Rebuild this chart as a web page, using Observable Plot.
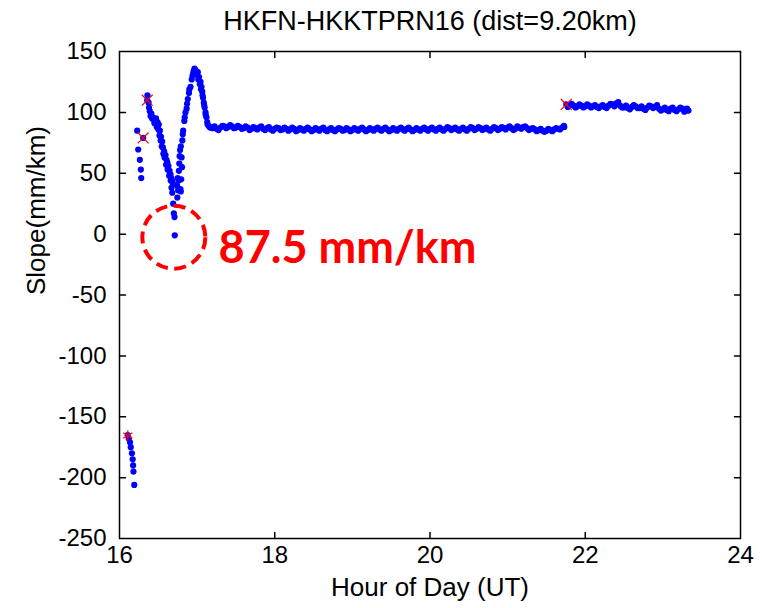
<!DOCTYPE html>
<html><head><meta charset="utf-8">
<script src="https://cdn.jsdelivr.net/npm/d3@7"></script>
<script src="https://cdn.jsdelivr.net/npm/@observablehq/plot@0.6"></script>
<style>body{margin:0;background:#fff}</style>
</head><body><div id="chart"></div>
<script>
const title = "HKFN-HKKTPRN16 (dist=9.20km)";
const xLabel = "Hour of Day (UT)";
const yLabel = "Slope(mm/km)";
const xTicks = [16, 18, 20, 22, 24];
const yTicks = [-250, -200, -150, -100, -50, 0, 50, 100, 150];

// segment 1: first negative arc
const seg1Hour  = [16.105, 16.12, 16.135, 16.145, 16.16, 16.17, 16.175, 16.18, 16.19];
const seg1Slope = [-165, -168, -171, -175, -180, -185, -190, -195, -206];

// segment 2: disturbed period
const seg2Hour  = [16.228, 16.241, 16.262, 16.275, 16.28, 16.305, 16.357, 16.36, 16.375, 16.39, 16.40, 16.42, 16.44, 16.464, 16.49, 16.506, 16.52, 16.535, 16.55, 16.56, 16.575, 16.593, 16.605, 16.615, 16.63, 16.645, 16.657, 16.668, 16.675, 16.68, 16.692, 16.70, 16.709, 16.712, 16.74, 16.75, 16.76, 16.77, 16.78, 16.785, 16.79, 16.80, 16.81, 16.82, 16.835, 16.85, 16.865, 16.88, 16.895, 16.915, 16.93, 16.95, 16.966, 16.985, 17.009, 17.025, 17.044, 17.056, 17.066, 17.076, 17.086, 17.097, 17.108, 17.12, 17.13, 17.15, 17.173];
const seg2Slope = [85, 69.5, 61, 53, 46, 79, 110, 114, 108, 101, 97, 95, 94, 93, 92, 90, 85, 80, 76, 71, 68, 65, 61, 59, 56, 52, 49, 46, 44, 34, 25, 17, 14, -1, 40, 46, 44, 58, 69, 37, 35, 63, 77, 85, 93, 100, 103, 111, 116, 121, 127, 132, 136, 134, 133, 129, 125, 121, 117, 112, 108, 104, 100, 96, 92, 89, 87.4];
// scattered companions of segment 2 as [hour, slope]
const seg2Scatter = [[16.38, 104], [16.41, 99], [16.43, 96], [16.45, 91], [16.47, 95], [16.48, 88], [16.50, 86], [16.515, 81], [16.53, 77], [16.545, 72], [16.565, 66], [16.58, 63], [16.60, 57], [16.62, 53], [16.64, 48], [16.66, 44], [16.67, 38], [16.685, 42], [16.745, 30], [16.755, 36], [16.765, 52], [16.775, 64], [16.79, 72], [16.795, 45], [16.805, 55], [16.815, 82], [16.84, 96], [16.87, 107], [16.90, 119], [16.94, 130], [16.955, 134], [16.975, 135], [16.995, 131], [17.015, 127], [17.035, 123], [17.05, 119], [17.07, 114], [17.09, 106], [17.11, 98], [17.135, 90], [17.16, 88]];

// segment 3: stable ~87 mm/km
const seg3Hour  = [17.20, 17.25, 17.30, 17.35, 17.40, 17.45, 17.50, 17.55, 17.60, 17.65, 17.70, 17.75, 17.80, 17.85, 17.90, 17.95, 18.00, 18.05, 18.10, 18.15, 18.20, 18.25, 18.30, 18.35, 18.40, 18.45, 18.50, 18.55, 18.60, 18.65, 18.70, 18.75, 18.80, 18.85, 18.90, 18.95, 19.00, 19.05, 19.10, 19.15, 19.20, 19.25, 19.30, 19.35, 19.40, 19.45, 19.50, 19.55, 19.60, 19.65, 19.70, 19.75, 19.80, 19.85, 19.90, 19.95, 20.00, 20.05, 20.10, 20.15, 20.20, 20.25, 20.30, 20.35, 20.40, 20.45, 20.50, 20.55, 20.60, 20.65, 20.70, 20.75, 20.80, 20.85, 20.90, 20.95, 21.00, 21.05, 21.10, 21.15, 21.20, 21.25, 21.30, 21.35, 21.40, 21.45, 21.50, 21.55, 21.60, 21.65, 21.70, 21.73];
const seg3Slope = [87.0, 86.5, 87.5, 88.5, 88.0, 88.5, 87.5, 88.0, 87.0, 87.5, 86.5, 87.0, 87.5, 86.5, 87.0, 86.0, 86.5, 87.0, 86.0, 86.5, 86.0, 86.5, 85.5, 86.0, 86.5, 86.0, 85.5, 86.0, 86.5, 85.5, 86.0, 85.5, 86.0, 86.5, 85.5, 86.0, 85.5, 86.0, 86.5, 86.0, 85.5, 86.0, 86.5, 86.0, 86.5, 86.0, 85.5, 86.0, 86.5, 86.0, 86.5, 86.0, 85.5, 86.0, 86.5, 86.0, 86.5, 86.0, 86.5, 86.0, 86.5, 87.0, 86.5, 86.0, 86.5, 86.0, 86.5, 87.0, 86.5, 87.0, 86.5, 86.0, 86.5, 87.0, 86.5, 87.0, 87.5, 87.0, 86.5, 87.5, 88.0, 87.0, 86.5, 86.0, 85.5, 85.0, 85.0, 85.5, 86.0, 86.5, 87.5, 88.0];
const seg3Scatter = [[17.225, 88.5], [17.275, 85.5], [17.325, 89], [17.375, 87], [17.425, 89.5], [17.475, 87], [17.525, 89], [17.575, 86.5], [17.625, 88.5], [17.675, 85.5], [17.725, 88], [17.775, 86], [17.825, 88.5], [17.875, 85.5], [17.925, 88], [17.975, 85], [18.025, 87.5], [18.075, 85.5], [18.125, 87.5], [18.175, 85], [18.225, 87.5], [18.275, 84.5], [18.325, 87], [18.375, 85], [18.425, 87.5], [18.475, 84.5], [18.525, 87], [18.575, 85], [18.625, 87.5], [18.675, 84.5], [18.725, 87], [18.775, 84.5], [18.825, 87], [18.875, 85], [18.925, 87], [18.975, 84.5], [19.025, 87], [19.075, 85], [19.125, 87.5], [19.175, 84.5], [19.225, 87], [19.275, 85], [19.325, 87.5], [19.375, 85], [19.425, 87.5], [19.475, 84.5], [19.525, 87], [19.575, 85], [19.625, 87.5], [19.675, 85], [19.725, 87.5], [19.775, 84.5], [19.825, 87], [19.875, 85], [19.925, 87.5], [19.975, 85], [20.025, 87.5], [20.075, 85], [20.125, 87.5], [20.175, 85], [20.225, 88], [20.275, 85.5], [20.325, 87.5], [20.375, 85], [20.425, 87.5], [20.475, 85], [20.525, 88], [20.575, 85.5], [20.625, 88], [20.675, 85.5], [20.725, 87.5], [20.775, 85], [20.825, 88], [20.875, 85.5], [20.925, 88], [20.975, 86], [21.025, 88.5], [21.075, 85.5], [21.125, 88.5], [21.175, 86.5], [21.225, 88.5], [21.275, 85.5], [21.325, 87], [21.375, 84.5], [21.425, 86.5], [21.475, 84], [21.525, 86.5], [21.575, 84.5], [21.625, 87], [21.675, 86], [21.725, 89]];

// segment 4: after 21.75 h ~104 mm/km
const seg4Hour  = [21.756, 21.80, 21.85, 21.90, 21.95, 22.00, 22.05, 22.10, 22.15, 22.20, 22.25, 22.30, 22.35, 22.40, 22.45, 22.50, 22.55, 22.60, 22.65, 22.70, 22.75, 22.80, 22.85, 22.90, 22.95, 23.00, 23.05, 23.10, 23.15, 23.20, 23.25, 23.30, 23.33];
const seg4Slope = [106.5, 106, 105.5, 105, 105.5, 105, 105.5, 105, 104.5, 105, 104.5, 105.5, 106.5, 107.5, 105.5, 104, 103.5, 104.5, 105, 103.5, 103, 104, 105, 104.5, 103, 102.5, 102, 103, 102, 102.5, 103, 101.5, 101.5];
const seg4Scatter = [[21.775, 104.5], [21.825, 107], [21.875, 104], [21.925, 106.5], [21.975, 104], [22.025, 106.5], [22.075, 104], [22.125, 106], [22.175, 103.5], [22.225, 106], [22.275, 103.5], [22.325, 107], [22.375, 105], [22.425, 108.5], [22.475, 104], [22.525, 105.5], [22.575, 102.5], [22.625, 106], [22.675, 103.5], [22.725, 105], [22.775, 102], [22.825, 105.5], [22.875, 103.5], [22.925, 106], [22.975, 101.5], [23.025, 104], [23.075, 101], [23.125, 104], [23.175, 101], [23.225, 104], [23.275, 100.5], [23.31, 103]];

// red reset markers
const slipHour   = [16.107, 16.305, 16.357, 21.756];
const slipSlope  = [-165.4, 79, 110, 106.5];
const slipSymbol = ["asterisk", "times", "times", "times"];

// annotation
const noteText = "87.5 mm/km";
const circleHour = [16.70], circleSlope = [-2.5];
const noteHour = [17.276], noteSlope = [-24.1];

const hours = [...seg1Hour, ...seg2Hour, ...seg3Hour, ...seg4Hour];
const slopes = [...seg1Slope, ...seg2Slope, ...seg3Slope, ...seg4Slope];
const points = hours.map((h, i) => ({h, s: slopes[i]}))
  .concat([...seg2Scatter, ...seg3Scatter, ...seg4Scatter].map(([h, s]) => ({h, s})));
const slips = slipHour.map((h, i) => ({h, s: slipSlope[i], sym: slipSymbol[i]}));

const tickShape = {draw(context, l) { context.moveTo(0, 0); context.lineTo(0, -l); }};
const inner = xTicks.slice(1, -1), innerY = yTicks.slice(1, -1);

const chart = Plot.plot({
  width: 762, height: 608,
  marginLeft: 119, marginRight: 22, marginTop: 51, marginBottom: 70,
  x: {domain: [16, 24]},
  y: {domain: [-250, 150]},
  style: {fontFamily: "'Liberation Sans', Arial, sans-serif", background: "white", color: "black"},
  marks: [
    Plot.axisX({ticks: xTicks, tickSize: 0, tickPadding: 7, tickFormat: d => String(d), fontSize: 24, label: null}),
    Plot.axisY({ticks: yTicks, tickSize: 0, tickPadding: 13, tickFormat: d => String(d), fontSize: 24, label: null}),
    Plot.vector(inner, {x: d => d, frameAnchor: "bottom", length: 6, rotate: 0, anchor: "start", shape: tickShape, stroke: "black"}),
    Plot.vector(inner, {x: d => d, frameAnchor: "top", length: 6, rotate: 180, anchor: "start", shape: tickShape, stroke: "black"}),
    Plot.vector(innerY, {y: d => d, frameAnchor: "left", length: 6, rotate: 90, anchor: "start", shape: tickShape, stroke: "black"}),
    Plot.vector(innerY, {y: d => d, frameAnchor: "right", length: 6, rotate: -90, anchor: "start", shape: tickShape, stroke: "black"}),
    Plot.frame({stroke: "black", strokeWidth: 1.5}),
    Plot.dot(points, {x: "h", y: "s", r: 3.1, fill: "#0000ff", stroke: "none"}),
    Plot.dot(slips, {x: "h", y: "s", symbol: "sym", r: 5, stroke: "#ff0000", fill: "none", strokeWidth: 1.2}),
    Plot.dot(circleHour.map((h, i) => ({h, s: circleSlope[i]})), {x: "h", y: "s", r: 31.5, fill: "none", stroke: "#ff0000", strokeWidth: 4, strokeDasharray: "12,6.5"}),
    Plot.text(noteHour.map((h, i) => ({h, s: noteSlope[i]})), {x: "h", y: "s", text: () => noteText, textAnchor: "start", lineAnchor: "bottom", fill: "#ff0000", fontSize: 45, fontWeight: "bold", fontFamily: "Lato, 'Noto Sans', sans-serif"}),
    Plot.text([title], {text: d => d, frameAnchor: "top", dy: -22, lineAnchor: "bottom", fontSize: 27, fill: "black"}),
    Plot.text([xLabel], {text: d => d, frameAnchor: "bottom", dy: 57, lineAnchor: "bottom", fontSize: 26, fill: "black"}),
    Plot.text([yLabel], {text: d => d, frameAnchor: "left", dx: -83, rotate: -90, lineAnchor: "middle", fontSize: 26, fill: "black"})
  ]
});
document.getElementById("chart").appendChild(chart);
</script>
</body></html>
